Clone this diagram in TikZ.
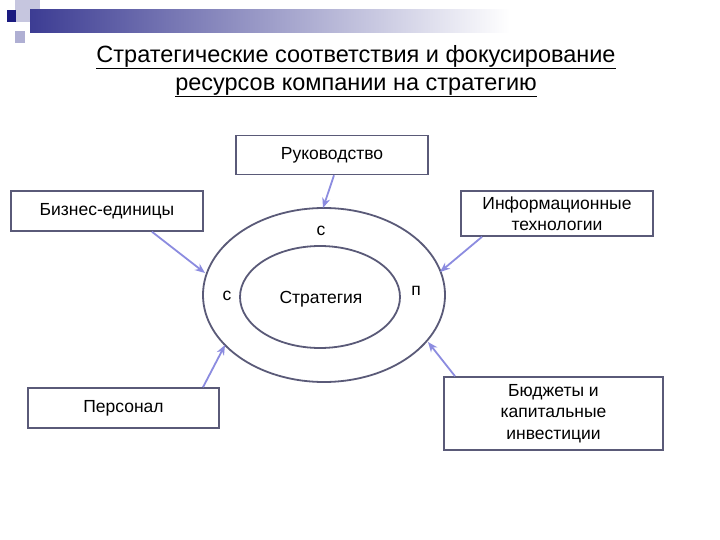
\documentclass[tikz,border=0pt]{standalone}
\usepackage{fontspec}
\setmainfont{Liberation Sans}
\usetikzlibrary{arrows.meta}
\definecolor{boxc}{HTML}{5A5A78}
\definecolor{arrc}{HTML}{8C8CE0}
\definecolor{navy}{HTML}{1A1A80}
\begin{document}
\begin{tikzpicture}[x=1pt,y=-1pt,
  bx/.style={draw=boxc,line width=1.6pt,font=\fontsize{17.5}{21.5}\selectfont,align=center,inner sep=0pt},
  arr/.style={draw=arrc,line width=1.8pt,-{Stealth[length=10pt,width=8pt]}},
  ell/.style={draw=boxc,line width=1.8pt},
  lbl/.style={font=\fontsize{17.5}{21}\selectfont}]
\useasboundingbox[fill=white] (0,0) rectangle (720,540);
% decoration
\fill[navy!25] (15,0) rectangle (40,22);
\shade[left color=navy!85,right color=white] (30,10) rectangle (510,33);
\fill[navy!35] (15,31) rectangle (25,43);
\fill[navy] (7,10) rectangle (16,22);
% title
\node[font=\fontsize{23.5}{28}\selectfont,align=center] (title) at (356,71) {\underline{Стратегические соответствия и фокусирование}\\\underline{ресурсов компании на стратегию}};
% ellipses
\draw[ell] (324,295) ellipse [x radius=121,y radius=87];
\draw[ell] (320,297) ellipse [x radius=80,y radius=51];
\node[lbl] (strat) at (321,299) {Стратегия};
\node[lbl] (c1) at (321,231) {с};
\node[lbl] (c2) at (227,296) {с};
\node[lbl] (p1) at (416,291) {п};
% boxes
\node[bx,minimum width=192pt,minimum height=39pt] (ruk) at (332,155) {Руководство};
\node[bx,minimum width=192pt,minimum height=40pt] (biz) at (107,211) {Бизнес-единицы};
\node[bx,minimum width=191pt,minimum height=40pt] (pers) at (123.5,408) {Персонал};
\node[bx,minimum width=192pt,minimum height=45pt] (info) at (557,213.5) {Информационные\\технологии};
\node[bx,minimum width=219pt,minimum height=73pt] (budg) at (553.5,413.5) {Бюджеты и\\капитальные\\инвестиции};
% arrow targets
\coordinate (tR) at (323,208);
\coordinate (tB) at (205,273);
\coordinate (tP) at (225,345);
\coordinate (tI) at (440,272);
\coordinate (tJ) at (428,342);
\draw[arr] (ruk.south -| 334,0) -- (tR);
\draw[arr] (biz.south -| 152,0) -- (tB);
\draw[arr] (pers.north -| 203,0) -- (tP);
\draw[arr] (info.south -| 482,0) -- (tI);
\draw[arr] (budg.north -| 455,0) -- (tJ);
\end{tikzpicture}
\end{document}
